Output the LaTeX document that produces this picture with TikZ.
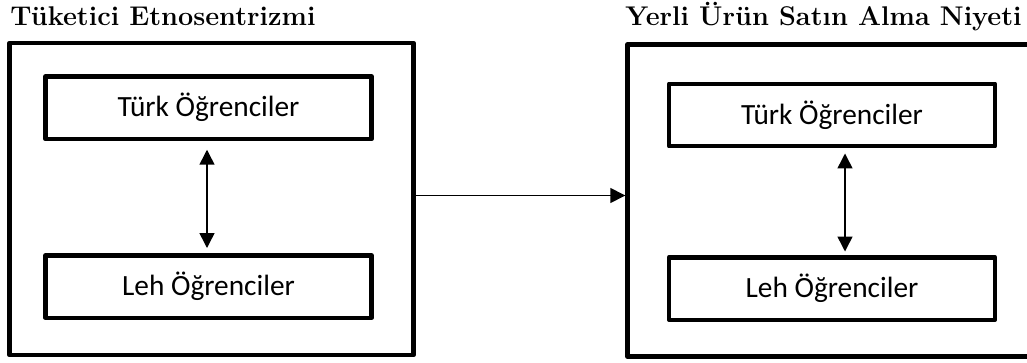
\documentclass[tikz,border=0pt]{standalone}
\usepackage{fontspec}
\usepackage{tikz}
\usetikzlibrary{arrows.meta}
\newfontfamily\calibri{Carlito}

\begin{document}
\begin{tikzpicture}[x=0.02cm, y=-0.02cm,
    outerbox/.style={draw, line width=0.09cm, line join=round, inner sep=0pt, minimum width=8.08cm, minimum height=6.25cm},
    innerbox/.style={draw, line width=0.09cm, line join=round, inner sep=0pt, minimum width=6.52cm, minimum height=1.25cm, font=\calibri\fontsize{16.7}{20}\selectfont},
    titletext/.style={inner sep=0pt, font=\bfseries\fontsize{15.4}{18}\selectfont},
    dblarrow/.style={{Triangle[width=0.3cm,length=0.3cm]}-{Triangle[width=0.3cm,length=0.3cm]}, line width=0.03cm},
    onearrow/.style={-{Triangle[width=0.3cm,length=0.3cm]}, line width=0.03cm}]
            \useasboundingbox (0, 0) rectangle (1027, 362);
            \node[titletext, anchor=base west] (tetitle) at (10, 25) {Tüketici Etnosentrizmi};
            \node[titletext, anchor=base east] (yutitle) at (1022, 25) {Yerli Ürün Satın Alma Niyeti};
            \node[outerbox] (tuk) at (211.5, 199) {};
            \node[outerbox] (yerli) at (829.5, 200.5) {};
            \node[innerbox] (turkA) at (208.5, 107.75) {Türk Öğrenciler};
            \node[innerbox] (lehA) at (208.5, 286.5) {Leh Öğrenciler};
            \node[innerbox] (turkB) at (832, 115) {Türk Öğrenciler};
            \node[innerbox] (lehB) at (832, 288.5) {Leh Öğrenciler};
            \draw[dblarrow, shorten <=0.17cm, shorten >=0.1cm] ([xshift=-0.03cm]turkA.south) -- ([xshift=-0.03cm]lehA.north);
            \draw[dblarrow, shorten <=0.1cm, shorten >=0.07cm] ([xshift=0.26cm]turkB.south) -- ([xshift=0.26cm]lehB.north);
            \draw[onearrow] ([yshift=0.07cm]tuk.east) -- ([yshift=0.07cm]tuk.east -| yerli.west);
        \end{tikzpicture}
\end{document}
